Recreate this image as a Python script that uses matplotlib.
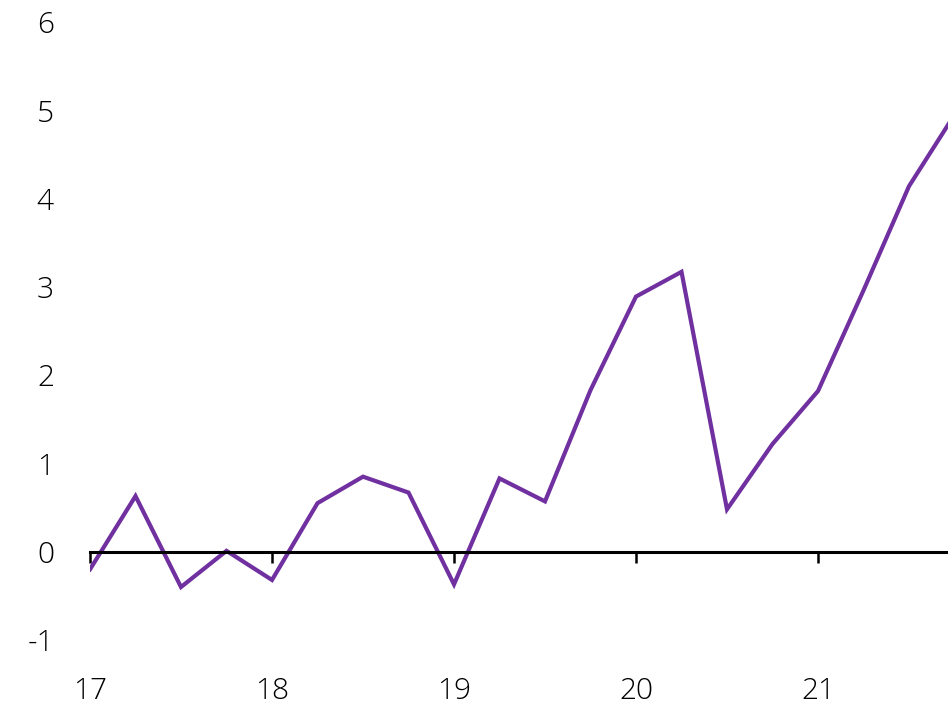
import numpy as np
import matplotlib
matplotlib.use("Agg")
from matplotlib import pyplot as plt
from matplotlib.ticker import MultipleLocator

#  ------------------------------  data  ------------------------------  #

# quarterly observations, x in years (17 = 2017 Q1)
quarters = np.arange(17.0, 21.76, 0.25)
values = [-0.20, 0.63, -0.40, 0.01, -0.32, 0.55, 0.85, 0.67, -0.37, 0.83,
          0.57, 1.83, 2.89, 3.17, 0.48, 1.22, 1.82, 2.96, 4.14, 4.95]

year_ticks = [17, 18, 19, 20, 21]
year_labels = ["17", "18", "19", "20", "21"]

#  ------------------------------  plot  ------------------------------  #

plt.rcParams["font.family"] = ["Open Sans", "DejaVu Sans"]
plt.rcParams["font.size"] = 21.5
plt.rcParams["axes.unicode_minus"] = False

fig = plt.figure(figsize=(9.48, 7.06), dpi=100)
ax = fig.add_axes([90/948, 66/706, 1 - 90/948, 618/706])

ax.plot(quarters, values, color="#7030A0", lw=3.0, solid_joinstyle="miter")

ax.set_xlim(17, 17 + 858/182)
ax.set_ylim(-1, 6)

for s in ("left", "right", "top"):
    ax.spines[s].set_visible(False)
ax.spines["bottom"].set_position(("data", 0))
ax.spines["bottom"].set_linewidth(2.2)

ax.set_xticks(year_ticks)
ax.set_xticklabels(year_labels, fontweight="light")
ax.tick_params(axis="x", direction="out", length=8, width=1.8, pad=82)
ax.yaxis.set_major_locator(MultipleLocator(1))
ax.tick_params(axis="y", length=0, pad=26)
for t in ax.get_yticklabels():
    t.set_fontweight("light")

fig.savefig("out.png", dpi=100)
